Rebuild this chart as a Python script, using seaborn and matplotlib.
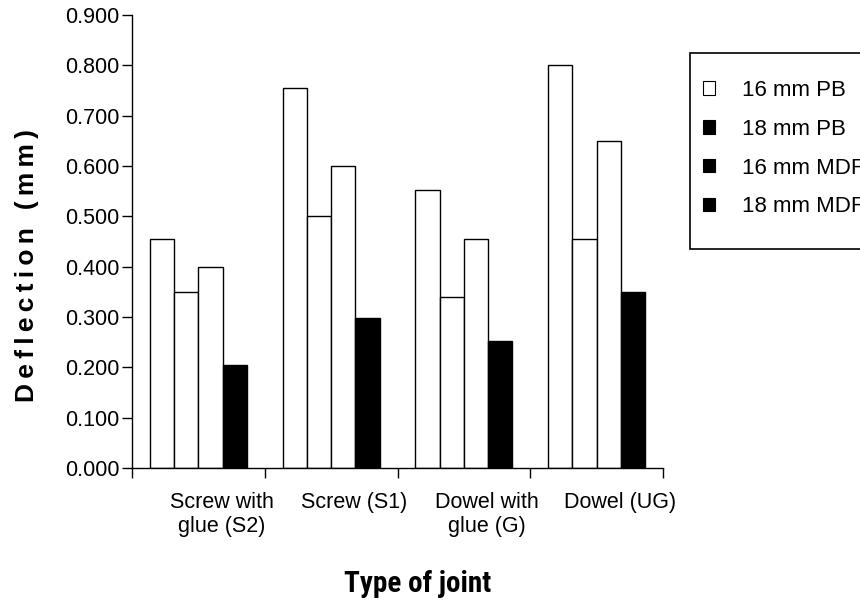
import matplotlib
matplotlib.use('Agg')
import matplotlib.pyplot as plt
import matplotlib.ticker as ticker
from matplotlib import font_manager
from matplotlib.patches import Patch, Rectangle
import pandas as pd
import seaborn as sns

# chart data
joints = ['Screw with\nglue (S2)', 'Screw (S1)', 'Dowel with\nglue (G)', 'Dowel (UG)']
boards = ['16 mm PB', '18 mm PB', '16 mm MDF', '18 mm MDF']
pb16 = [0.455, 0.755, 0.552, 0.800]
pb18 = [0.350, 0.500, 0.340, 0.455]
mdf16 = [0.400, 0.600, 0.455, 0.650]
mdf18 = [0.205, 0.298, 0.253, 0.350]
y_ticks = [0.0, 0.1, 0.2, 0.3, 0.4, 0.5, 0.6, 0.7, 0.8, 0.9]

bar_colors = ['white', 'white', 'white', 'black']
legend_colors = ['white', 'black', 'black', 'black']

rows = []
for board, vals in zip(boards, [pb16, pb18, mdf16, mdf18]):
    for joint, v in zip(joints, vals):
        rows.append({'joint': joint, 'board': board, 'deflection': v})
df = pd.DataFrame(rows)

sns.set_style('white')
plt.rcParams['font.family'] = ['Liberation Sans', 'DejaVu Sans']
plt.rcParams['text.color'] = 'black'
plt.rcParams['xtick.color'] = 'black'
plt.rcParams['ytick.color'] = 'black'

# pick a condensed family for the x title if one is around
installed = {f.name for f in font_manager.fontManager.ttflist}
narrow = 'Liberation Sans'
for name in ['Liberation Sans Narrow', 'Roboto Condensed', 'DejaVu Sans Condensed']:
    if name in installed:
        narrow = name
        break

W, H = 860, 605
fig = plt.figure(figsize=(8.6, 6.05), dpi=100)
ax = fig.add_axes([132 / W, 1 - 468 / H, 531 / W, 453 / H])

sns.barplot(ax=ax, data=df, x='joint', y='deflection', hue='board',
            order=joints, hue_order=boards, palette=bar_colors,
            edgecolor='black', linewidth=1, width=0.73, legend=False,
            saturation=1, errorbar=None)

# Set axes ticks
ax.set_xlim(-0.5, 3.5)
ax.set_ylim(0, 0.9)
ax.set_yticks(y_ticks)
ax.yaxis.set_major_formatter(ticker.FormatStrFormatter('%.3f'))
ax.set_xticks([-0.5, 0.5, 1.5, 2.5, 3.5])
ax.set_xticklabels([])
ax.set_xticks([i + 0.175 for i in range(len(joints))], minor=True)
ax.set_xticklabels(joints, minor=True)
ax.tick_params(axis='x', which='major', direction='out', length=7, width=1, color='black', bottom=True)
ax.tick_params(axis='x', which='minor', length=0, pad=17, labelsize=15.5)
ax.tick_params(axis='y', direction='out', length=7, width=1, color='black', left=True, labelsize=15.5, pad=2)

for side in ['top', 'right']:
    ax.spines[side].set_visible(False)
for side in ['left', 'bottom']:
    ax.spines[side].set_color('black')
    ax.spines[side].set_linewidth(1)

ax.set_xlabel('')
ax.set_ylabel('')

# Axis titles
ylab = '\u2009'.join('Deflection (mm)')
fig.text(27 / W, 1 - 266 / H, ylab, rotation=90, ha='center', va='center',
         fontsize=19, fontweight='bold')
fig.text(418 / W, 1 - 584 / H, 'Type of joint', ha='center', va='center',
         fontsize=21, fontweight='bold', family=[narrow, 'DejaVu Sans'])

# Legend with its own frame
frame = Rectangle((690 / W, 1 - 249 / H), 200 / W, 196 / H, transform=fig.transFigure,
                  facecolor='white', edgecolor='black', linewidth=1.2)
fig.patches.append(frame)
handles = [Patch(facecolor=c, edgecolor='black', linewidth=0.8) for c in legend_colors]
fig.legend(handles, boards, loc='upper left', bbox_to_anchor=(703 / W, 1 - 80 / H),
           frameon=False, fontsize=16, handlelength=0.55, handleheight=0.55,
           handletextpad=1.2, labelspacing=0.8, borderpad=0, borderaxespad=0)

fig.savefig('out.png', dpi=100)
